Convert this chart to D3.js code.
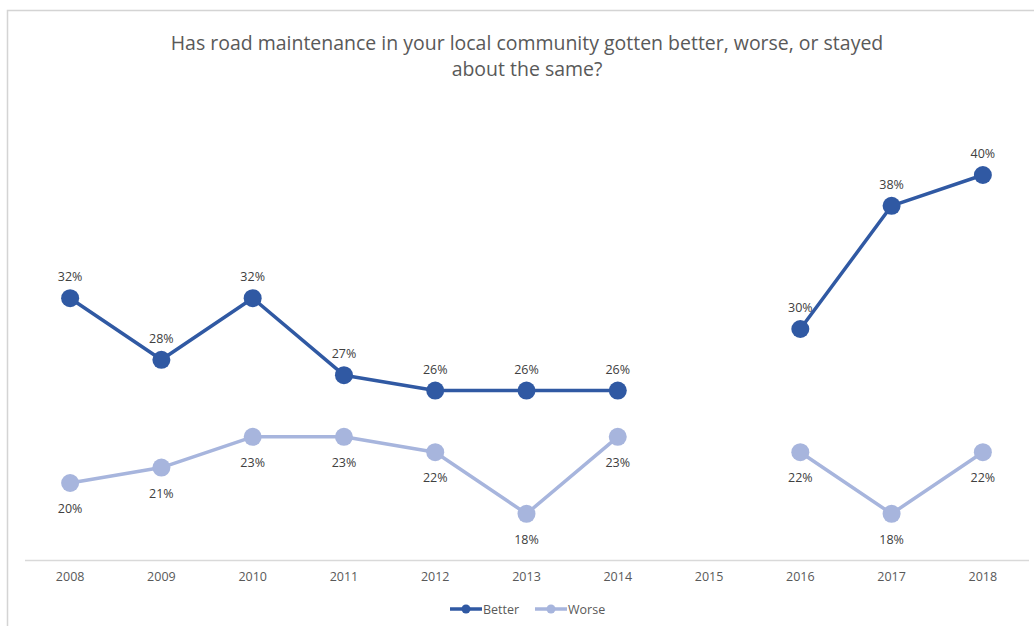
<!DOCTYPE html>
<html>
<head>
<meta charset="utf-8">
<script src="https://cdn.jsdelivr.net/npm/d3@7"></script>
<style>
  html, body { margin: 0; padding: 0; background: #fff; }
  svg { display: block; }
  text { font-family: "Open Sans", "Noto Sans", sans-serif; }
</style>
</head>
<body>
<svg id="chart" width="1034" height="626"></svg>
<script>
// Survey years (2015 had no survey)
const years = ["2008", "2009", "2010", "2011", "2012", "2013", "2014", "2015", "2016", "2017", "2018"];
const better = [32, 28, 32, 27, 26, 26, 26, null, 30, 38, 40];
const worse  = [20, 21, 23, 23, 22, 18, 23, null, 22, 18, 22];
const seriesNames = ["Better", "Worse"];
const titleLines = [
  "Has road maintenance in your local community gotten better, worse, or stayed",
  "about the same?"
];

const W = 1034, H = 626;
const svg = d3.select("#chart");

// chart frame
svg.append("rect")
  .attr("x", 7.5).attr("y", 10.5)
  .attr("width", W + 10).attr("height", H + 10)
  .attr("fill", "#fff").attr("stroke", "#d4d4d4").attr("stroke-width", 1.5);

const colors = { Better: "#3059a3", Worse: "#a7b5dd" };

const x = d3.scaleBand().domain(years).range([24.5, 1028.5]);
const y = d3.scaleLinear().domain([15, 45]).range([560, 98]);

// title
const title = svg.append("text")
  .attr("text-anchor", "middle")
  .attr("fill", "#595959")
  .style("font-size", "19px");
title.selectAll("tspan").data(titleLines).join("tspan")
  .attr("x", 527)
  .attr("y", (d, i) => 50 + i * 26)
  .text(d => d);
// fit the first title line to its intended width
const firstLen = title.select("tspan").node().getComputedTextLength();
title.style("font-size", (19 * 713 / firstLen).toFixed(2) + "px");

// category axis
const xAxis = svg.append("g")
  .attr("transform", "translate(0,560)")
  .call(d3.axisBottom(x).tickSize(0).tickPadding(12));
xAxis.select(".domain").attr("stroke", "#d9d9d9").attr("stroke-width", 1.3);
xAxis.selectAll("text")
  .attr("fill", "#595959")
  .style("font-size", "12.5px")
  .style("font-family", "'Open Sans', sans-serif");

const cx = d => x(d) + x.bandwidth() / 2;

const seriesData = [
  { name: "Better", values: better, labelDy: -17 },
  { name: "Worse", values: worse, labelDy: 30 }
];

const line = d3.line()
  .defined(d => d.v != null)
  .x(d => cx(d.year))
  .y(d => y(d.v));

seriesData.forEach(s => {
  const pts = years.map((yr, i) => ({ year: yr, v: s.values[i] }));
  const g = svg.append("g");
  g.append("path")
    .datum(pts)
    .attr("fill", "none")
    .attr("stroke", colors[s.name])
    .attr("stroke-width", 3.5)
    .attr("stroke-linejoin", "round")
    .attr("d", line);
  const valid = pts.filter(d => d.v != null);
  g.selectAll("circle").data(valid).join("circle")
    .attr("cx", d => cx(d.year))
    .attr("cy", d => y(d.v))
    .attr("r", 9)
    .attr("fill", colors[s.name]);
  g.selectAll("text").data(valid).join("text")
    .attr("x", d => cx(d.year))
    .attr("y", d => y(d.v) + s.labelDy)
    .attr("text-anchor", "middle")
    .attr("fill", "#404040")
    .style("font-size", "12.5px")
    .text(d => d.v + "%");
});

// legend
const legendItems = [
  { name: "Better", x0: 450 },
  { name: "Worse", x0: 535 }
];
const lg = svg.append("g").attr("transform", "translate(0,609)");
legendItems.forEach(it => {
  lg.append("line")
    .attr("x1", it.x0).attr("x2", it.x0 + 32)
    .attr("y1", 0).attr("y2", 0)
    .attr("stroke", colors[it.name]).attr("stroke-width", 3.5);
  lg.append("circle")
    .attr("cx", it.x0 + 16).attr("cy", 0).attr("r", 4.5)
    .attr("fill", colors[it.name]);
  lg.append("text")
    .attr("x", it.x0 + 33).attr("y", 4.5)
    .attr("fill", "#595959")
    .style("font-size", "12.5px")
    .text(it.name);
});
</script>
</body>
</html>
